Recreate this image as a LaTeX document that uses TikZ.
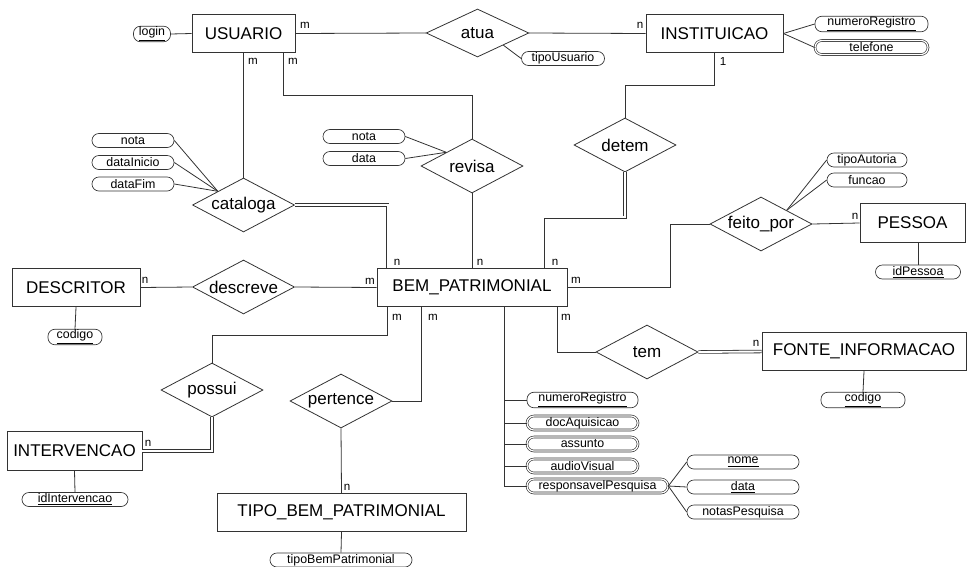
\documentclass[tikz,border=0pt]{standalone}
\usepackage{fontspec}
\setmainfont{Liberation Sans}
\usetikzlibrary{shapes.geometric,calc}

\tikzset{
  entity/.style={draw=black!80, line width=0.6pt, minimum height=29pt, inner sep=2pt, font=\fontsize{12.75}{14}\selectfont},
  relation/.style={draw=black!80, line width=0.6pt, diamond, aspect=1.9, minimum width=76.5pt, minimum height=40.5pt, inner sep=0pt, font=\fontsize{12.75}{14}\selectfont},
  attr/.style={draw=black!80, line width=0.5pt, rounded corners=5.2pt, minimum height=10.5pt, inner sep=0.5pt, font=\fontsize{9.3}{10}\selectfont},
  multiattr/.style={attr, double, double distance=0.9pt},
  card/.style={inner sep=0pt, font=\fontsize{8.7}{9}\selectfont},
  link/.style={draw=black!80, line width=0.6pt},
  dbllink/.style={link, double, double distance=1.4pt},
}

\begin{document}
\begin{tikzpicture}[x=0.75pt, y=-0.75pt]
      \useasboundingbox (0,0) rectangle (967,567);

      \node[entity, minimum width=77.25pt] (usuario) at (243.5,33.5) {USUARIO};
      \node[entity, minimum width=102.75pt] (instituicao) at (714.5,33.5) {INSTITUICAO};
      \node[entity, minimum width=142.5pt] (bem) at (472,287.5) {BEM\_PATRIMONIAL};
      \node[entity, minimum width=96pt] (descritor) at (76,287.5) {DESCRITOR};
      \node[entity, minimum width=101.25pt] (intervencao) at (74.5,451) {INTERVENCAO};
      \node[entity, minimum width=186.75pt] (tipoBem) at (341.5,512.5) {TIPO\_BEM\_PATRIMONIAL};
      \node[entity, minimum width=78.75pt] (pessoa) at (912.5,223) {PESSOA};
      \node[entity, minimum width=153pt] (fonte) at (864,351.5) {FONTE\_INFORMACAO};

      \node[relation, minimum width=77pt, minimum height=36pt] (atua) at (477.5,33) {atua};
      \node[relation] (revisa) at (472,166) {revisa};
      \node[relation] (cataloga) at (243.5,205) {cataloga};
      \node[relation] (detem) at (625,145) {detem};
      \node[relation] (descreve) at (243.5,287) {descreve};
      \node[relation] (possui) at (212,390) {possui};
      \node[relation] (pertence) at (341,401) {pertence};
      \node[relation] (feitoPor) at (761,224) {feito\_por};
      \node[relation] (tem) at (647,352) {tem};

      \node[attr, minimum width=27.75pt] (login) at (152,34) {\underline{login}};
      \node[attr, minimum width=62.25pt] (tipoUsuario) at (563,58.5) {tipoUsuario};
      \node[attr, minimum width=84.75pt] (numRegInst) at (871.5,24) {\underline{numeroRegistro}};
      \node[multiattr, minimum width=84.75pt] (telefone) at (871.5,47.5) {telefone};
      \node[attr, minimum width=61.5pt] (notaRev) at (364,136.5) {nota};
      \node[attr, minimum width=61.5pt] (dataRev) at (364,158.5) {data};
      \node[attr, minimum width=61.5pt] (notaCat) at (133,140.5) {nota};
      \node[attr, minimum width=61.5pt] (dataInicio) at (133,162.5) {dataInicio};
      \node[attr, minimum width=61.5pt] (dataFim) at (133,184) {dataFim};
      \node[attr, minimum width=40.5pt] (codigoDesc) at (75,337) {\underline{codigo}};
      \node[attr, minimum width=79.5pt] (idIntervencao) at (75,499.5) {\underline{idIntervencao}};
      \node[attr, minimum width=106.5pt] (tipoBemPat) at (341,560) {tipoBemPatrimonial};
      \node[attr, minimum width=83.25pt] (numRegBem) at (582.5,400) {\underline{numeroRegistro}};
      \node[multiattr, minimum width=83.25pt] (docAquisicao) at (582.5,423) {docAquisicao};
      \node[multiattr, minimum width=83.25pt] (assunto) at (582.5,444) {assunto};
      \node[multiattr, minimum width=83.25pt] (audioVisual) at (582.5,466) {audioVisual};
      \node[multiattr, minimum width=105.75pt] (respPesq) at (597.5,486) {responsavelPesquisa};
      \node[attr, minimum width=84pt] (nome) at (743,462) {\underline{nome}};
      \node[attr, minimum width=84pt] (dataPesq) at (743,487) {\underline{data}};
      \node[attr, minimum width=84pt] (notasPesq) at (743,512) {notasPesquisa};
      \node[attr, minimum width=63.75pt] (idPessoa) at (918,272) {\underline{idPessoa}};
      \node[attr, minimum width=60pt] (tipoAutoria) at (867,160) {tipoAutoria};
      \node[attr, minimum width=60pt] (funcao) at (867,180) {funcao};
      \node[attr, minimum width=63pt] (codigoFonte) at (863,400) {\underline{codigo}};

      \draw[link] (login.east) -- (usuario.west);
      \draw[link] (usuario.east) -- (atua.west);
      \draw[link] (atua.east) -- (instituicao.west);
      \draw[link] (atua.south east) -- (tipoUsuario.west);
      \draw[link] (instituicao.east) -- (numRegInst.west);
      \draw[link] (instituicao.east) -- (telefone.west);
      \draw[link] (instituicao.south) -- ++(0,32) -| (detem.north);
      \draw[dbllink] (detem.south) -- ++(0,45) -| ($(bem.north east)+(-24,0)$);
      \draw[link] (usuario.south) -- (cataloga.north);
      \draw[link] ($(usuario.south east)+(-12,0)$) -- ++(0,42) -| (revisa.north);
      \draw[link] (revisa.south) -- (bem.north);
      \draw[link] (notaRev.east) -- (revisa.north west);
      \draw[link] (dataRev.east) -- (revisa.north west);
      \foreach \a in {notaCat,dataInicio,dataFim}
        \draw[link] (\a.east) -- (cataloga.north west);
      \draw[dbllink] (cataloga.east) -| ($(bem.north west)+(11,0)$);
      \draw[link] (descritor.east) -- (descreve.west);
      \draw[link] (descreve.east) -- (bem.west);
      \draw[link] (descritor.south) -- (codigoDesc.north);
      \draw[link] ($(bem.south west)+(11,0)$) -- ++(0,28) -| (possui.north);
      \draw[dbllink] (possui.south) |- (intervencao.east);
      \draw[link] (intervencao.south) -- (idIntervencao.north);
      \draw[link] ($(bem.south west)+(45,0)$) |- (pertence.east);
      \draw[link] (pertence.south) -- (tipoBem.north);
      \draw[link] (tipoBem.south) -- (tipoBemPat.north);
      \coordinate (trunk) at ($(bem.south west)+(128,0)$);
      \draw[link] (trunk) |- (respPesq.west);
      \foreach \a in {numRegBem,docAquisicao,assunto,audioVisual}
        \draw[link] (trunk |- \a.west) -- (\a.west);
      \foreach \a in {nome,dataPesq,notasPesq}
        \draw[link] (respPesq.east) -- (\a.west);
      \draw[link] ($(bem.south east)+(-10,0)$) |- (tem.west);
      \draw[dbllink] (tem.east) -- (fonte.west);
      \draw[link] (fonte.south) -- (codigoFonte.north);
      \draw[link] (bem.east) -- ++(103,0) |- (feitoPor.west);
      \draw[link] (feitoPor.east) -- (pessoa.west);
      \draw[link] (pessoa.south -| idPessoa.north) -- (idPessoa.north);
      \draw[link] (feitoPor.north east) -- (tipoAutoria.west);
      \draw[link] (feitoPor.north east) -- (funcao.west);

      \node[card] (c1) at (305,25) {m};
      \node[card] (c2) at (253,61) {m};
      \node[card] (c3) at (293,61) {m};
      \node[card] (c4) at (640,25) {n};
      \node[card] (c5) at (723,62) {1};
      \node[card] (c6) at (397,262) {n};
      \node[card] (c7) at (480,262) {n};
      \node[card] (c8) at (555,262) {n};
      \node[card] (c9) at (370,281) {m};
      \node[card] (c10) at (576,280) {m};
      \node[card] (c11) at (397,317) {m};
      \node[card] (c12) at (433,317) {m};
      \node[card] (c13) at (566,317) {m};
      \node[card] (c14) at (145,280) {n};
      \node[card] (c15) at (148,443) {n};
      \node[card] (c16) at (347,487) {n};
      \node[card] (c17) at (855,216) {n};
      \node[card] (c18) at (756,343) {n};
    \end{tikzpicture}
\end{document}
